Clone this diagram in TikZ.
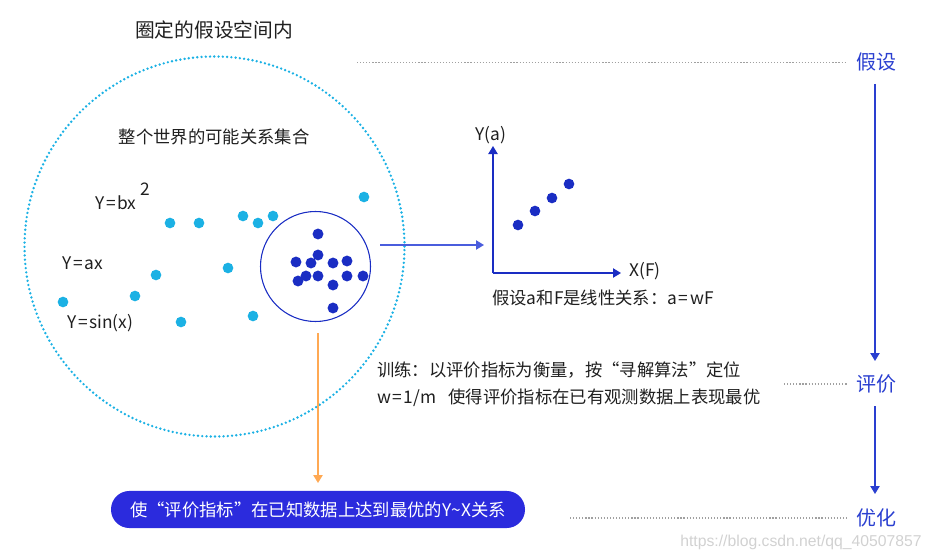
\documentclass[tikz,border=0pt]{standalone}
\usepackage{fontspec}
\newfontfamily\cjk{Noto Sans CJK SC}
\newfontfamily\wmfont{Liberation Sans}
\usetikzlibrary{arrows.meta}
\definecolor{lblue}{HTML}{1BB1E4}
\definecolor{dblue}{HTML}{1A2DC3}
\definecolor{lineblue}{HTML}{2A3FD0}
\definecolor{arrblue}{HTML}{4A5DDD}
\definecolor{pillc}{HTML}{2B2BDD}
\definecolor{orangeA}{HTML}{FFA953}
\definecolor{gdot}{HTML}{A0A0A0}
\newcommand{\eqs}{\kern1.2pt=\kern1.2pt}
\begin{document}
\begin{tikzpicture}[x=0.75pt,y=-0.75pt,
  txt/.style={font=\cjk\fontsize{13}{15}\selectfont, inner sep=0pt, text=black!88},
  lab/.style={font=\cjk\fontsize{15}{18}\selectfont, inner sep=0pt, text=lineblue},
  ldot/.style={circle, fill=lblue, minimum size=8pt, inner sep=0pt},
  ddot/.style={circle, fill=dblue, minimum size=8.2pt, inner sep=0pt},
  gline/.style={gdot, line width=0.9pt, dash pattern=on 0.9pt off 1.4pt},
  tip/.style={-{Triangle[length=6pt,width=7pt]}}
]
\useasboundingbox (0,0) rectangle (932,560);

% title
\node[txt, font=\cjk\fontsize{14.8}{17}\selectfont] (title) at (214,30) {圈定的假设空间内};

% big dotted circle
\node[circle, draw=lblue, line width=2pt, line cap=round, dash pattern=on 0pt off 3.2pt,
      minimum size=285pt, inner sep=0pt] (big) at (214.5,246.5) {};
\node[txt] (world) at (214,137) {整个世界的可能关系集合};

% formulas
\node[txt, anchor=west] (f1) at (95,203) {Y\eqs bx};
\node[txt, anchor=west] (f1s) at (140,189) {2};
\node[txt, anchor=west] (f2) at (62,263) {Y\eqs ax};
\node[txt, anchor=west] (f3) at (67,323) {Y\eqs sin(x)};

% light blue dots
\foreach \p [count=\i] in {(170,223),(199,223),(243,216),(258,223),(273,216),(228,268),(156,275),(135,296),(63,302),(181,322),(253,316),(364,197)}
  \node[ldot] (l\i) at \p {};

% small circle and dark dots
\node[circle, draw=dblue, line width=0.8pt, minimum size=82.5pt, inner sep=0pt] (small) at (315.5,266.5) {};
\foreach \p [count=\i] in {(318,234),(318,255),(296,262),(311,263),(333,263),(347,261),(306,276),(318,276),(298,281),(347,276),(363,276),(333,285),(333,308)}
  \node[ddot] (d\i) at \p {};

% arrow to plot
\coordinate (a1) at (380,245);
\coordinate (a2) at (484,245);
\draw[arrblue, line width=0.9pt, tip] (a1) -- (a2);

% axes
\coordinate (O) at (493,273);
\coordinate (Ytop) at (493,146);
\coordinate (Xend) at (621,273);
\draw[dblue, line width=0.9pt, tip] (O) -- (Ytop);
\draw[dblue, line width=0.9pt, tip] (O) -- (Xend);
\node[txt] (ya) at (491,135) {Y(a)};
\node[txt, anchor=west] (xf) at (629,271) {X(F)};
\foreach \p [count=\i] in {(518,225),(535,211),(552,198),(569,184)}
  \node[ddot, minimum size=8pt] (p\i) at \p {};
\node[txt, anchor=west] (lin) at (492,298) {假设a和F是线性关系：a\eqs wF};

% training text
\node[txt, anchor=west] (tr1) at (377,370) {训练：以评价指标为衡量，按“寻解算法”定位};
\node[txt, anchor=west] (tr2) at (377,398) {w\eqs 1/m\hspace{0.7em}使得评价指标在已有观测数据上表现最优};

% orange arrow
\coordinate (o1) at (318,333);
\coordinate (o2) at (318,483);
\draw[orangeA, line width=1.2pt, tip] (o1) -- (o2);

% pill
\node[fill=pillc, rounded corners=13.8pt, minimum width=310.5pt, minimum height=27.8pt, inner sep=0pt,
      text=white, font=\cjk\fontsize{13}{15}\selectfont] (pill) at (318,509.5) {使“评价指标”在已知数据上达到最优的Y\textasciitilde X关系};

% right column
\node[lab] (hyp) at (876,62) {假设};
\node[lab] (eva) at (876,384) {评价};
\node[lab] (opt) at (876,518) {优化};
\coordinate (g1) at (357,62.5);
\coordinate (g2) at (847,62.5);
\coordinate (g3) at (784,384);
\coordinate (g4) at (847,384);
\coordinate (g5) at (570,518);
\coordinate (g6) at (847,518);
\draw[gline] (g1) -- (g2);
\draw[gline] (g3) -- (g4);
\draw[gline] (g5) -- (g6);
\coordinate (v1) at (875,84);
\coordinate (v2) at (875,361);
\coordinate (v3) at (875,406);
\coordinate (v4) at (875,494);
\draw[lineblue, line width=0.9pt, tip] (v1) -- (v2);
\draw[lineblue, line width=0.9pt, tip] (v3) -- (v4);

% watermark
\node[font=\wmfont\fontsize{11.8}{13}\selectfont, text=black!18, anchor=east, inner sep=0pt] (wm) at (922,542) {https://blog.csdn.net/qq\_40507857};
\end{tikzpicture}
\end{document}
